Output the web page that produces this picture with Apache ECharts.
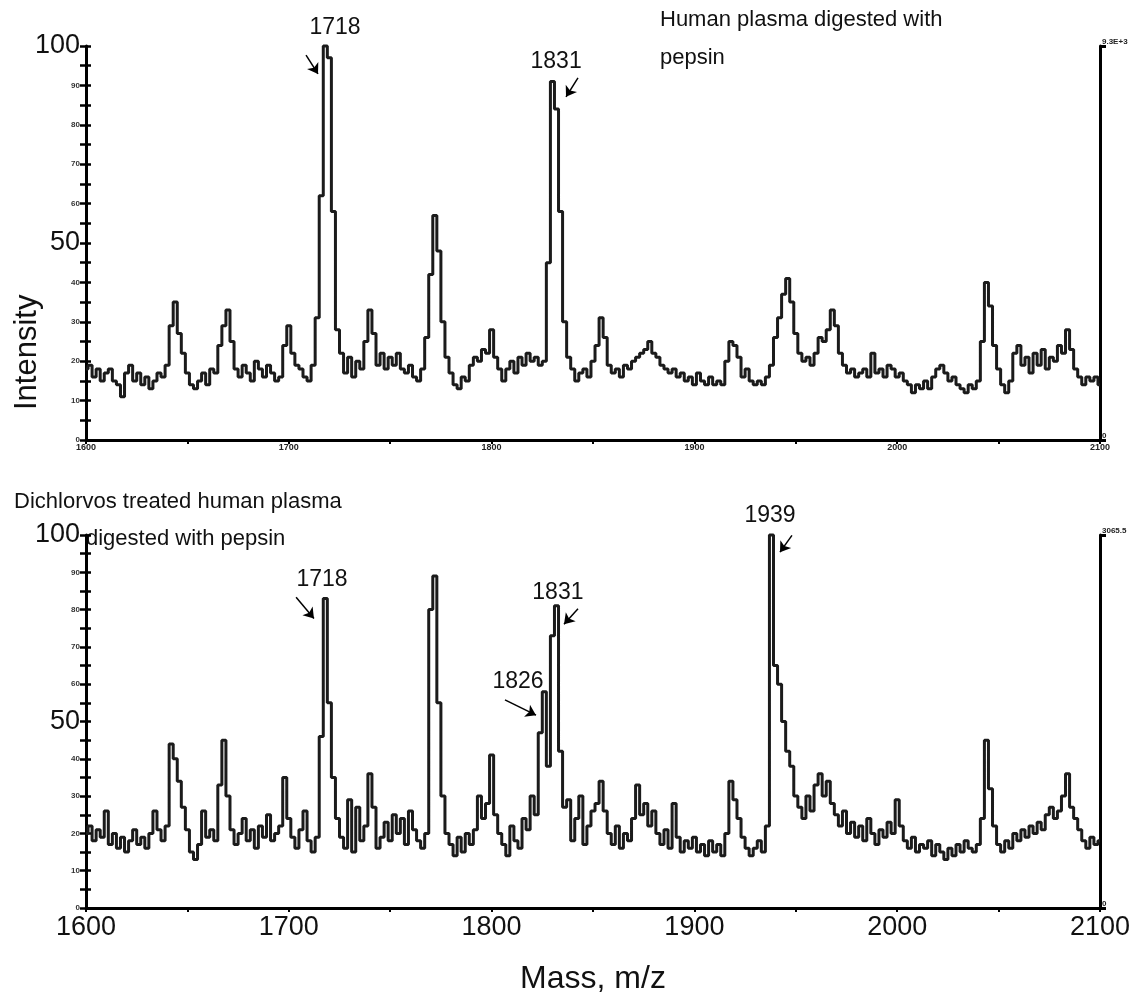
<!DOCTYPE html>
<html>
<head>
<meta charset="utf-8">
<script src="https://cdn.jsdelivr.net/npm/echarts@6/dist/echarts.min.js"></script>
<style>
  html, body { margin: 0; padding: 0; background: #fff; }
  #chart { width: 1142px; height: 996px; }
</style>
</head>
<body>
<div id="chart"></div>
<script>
// spectra sampled every 2 m/z from 1600 to 2100 (one row = 20 m/z)
var massStart = 1600;
var massStep = 2;

var plasmaIntensity = [
  18,19,16,18,15,17,18,15,14,11,   // 1600
  17,19,15,17,14,16,13,15,17,16,   // 1620
  19,29,35,27,22,17,14,13,15,17,   // 1640
  14,18,17,24,29,33,25,18,16,19,   // 1660
  17,15,20,18,16,19,17,15,16,24,   // 1680
  29,22,19,18,16,15,19,31,62,100,  // 1700
  97,58,28,22,17,21,16,20,18,25,   // 1720
  33,27,19,22,18,21,19,22,18,17,   // 1740
  19,16,15,18,26,42,57,48,30,21,   // 1760
  17,14,13,16,15,19,21,20,23,22,   // 1780
  28,21,18,15,18,20,17,21,19,22,   // 1800
  20,21,19,20,45,91,84,58,30,21,   // 1820
  18,15,17,18,16,20,24,31,26,19,   // 1840
  17,18,16,19,18,20,21,22,23,25,   // 1860
  22,21,19,18,17,18,16,17,15,16,   // 1880
  14,17,15,14,16,14,15,14,20,25,   // 1900
  24,21,16,18,15,14,15,14,16,19,   // 1920
  26,31,37,41,35,27,22,20,21,19,   // 1940
  22,26,25,28,33,29,22,19,17,18,   // 1960
  16,17,18,16,22,17,18,16,19,18,   // 1980
  16,17,15,14,12,14,13,15,13,16,   // 2000
  18,19,17,15,16,14,13,12,14,13,   // 2020
  15,25,40,34,24,18,14,12,15,22,   // 2040
  24,19,21,17,22,19,23,18,21,20,   // 2060
  24,22,28,23,18,16,14,16,15,16,   // 2080
  14                               // 2100
];

var dichlorvosIntensity = [
  20,22,18,21,19,26,17,20,16,19,   // 1600
  15,18,21,17,19,16,20,26,21,18,   // 1620
  22,44,40,34,27,21,15,13,17,26,   // 1640
  19,21,18,33,45,30,21,17,20,24,   // 1660
  18,21,16,22,19,25,18,20,22,35,   // 1680
  24,19,16,21,26,18,15,19,46,83,   // 1700
  55,35,24,19,16,29,15,27,18,22,   // 1720
  36,27,16,19,23,18,25,20,24,17,   // 1740
  26,21,18,16,20,80,89,55,30,20,   // 1760
  17,14,19,15,20,17,21,30,24,28,   // 1780
  41,25,20,17,14,22,18,16,24,21,   // 1800
  30,25,47,58,38,73,81,42,27,29,   // 1820
  18,24,30,17,22,26,28,34,26,20,   // 1840
  17,22,16,20,18,24,33,25,28,22,   // 1860
  26,20,17,21,16,28,19,15,18,16,   // 1880
  19,15,17,14,18,15,17,14,20,34,   // 1900
  29,24,19,16,14,16,18,15,22,100,  // 1920
  65,60,50,42,38,30,27,24,30,26,   // 1940
  33,36,30,34,28,25,22,26,20,23,   // 1960
  19,22,18,24,20,17,21,19,23,20,   // 1980
  29,22,18,16,19,15,17,16,18,14,   // 2000
  17,15,13,16,14,17,15,18,16,15,   // 2020
  17,24,45,32,22,17,15,18,16,20,   // 2040
  18,21,19,22,20,23,21,25,27,24,   // 2060
  26,30,36,27,24,21,18,16,19,17,   // 2080
  18                               // 2100
];

// peak labels: [text, mass, intensity]; arrows: [fromMass, fromInt, toMass, toInt]
var plasmaLabels = [['1718', 1722.8, 104.6], ['1831', 1831.8, 95.9]];
var plasmaArrows = [[1708.5, 97.7, 1714.4, 92.9], [1842.6, 91.9, 1836.7, 87.1]];
var dichlorvosLabels = [['1718', 1716.4, 87.9], ['1831', 1832.7, 84.6], ['1826', 1813, 60.7], ['1939', 1937.3, 105.1]];
var dichlorvosArrows = [[1703.6, 83.3, 1712.4, 77.6], [1842.6, 80.2, 1835.7, 76.1], [1806.6, 55.8, 1821.9, 51.7], [1948.1, 99.9, 1942.2, 95.4]];

var scaleMax = ['9.3E+3', '3065.5'];

function toPairs(arr) {
  return arr.map(function (v, i) { return [massStart + i * massStep, v]; });
}

var ink = '#1b1b1b';
var narrow = '"Liberation Sans Narrow", "Liberation Sans", Arial';
var sans = '"Liberation Sans", Arial';

function xAxisFor(idx, big) {
  return {
    type: 'value', gridIndex: idx, min: 1600, max: 2100, interval: 50,
    axisLine: { lineStyle: { color: '#000', width: 3 } },
    axisTick: { length: 4, lineStyle: { color: '#000', width: 2 } },
    splitLine: { show: false },
    axisLabel: {
      margin: big ? 6 : 3,
      color: big ? '#111' : '#222',
      fontFamily: narrow,
      fontSize: big ? 27 : 9,
      fontWeight: big ? 'normal' : 'bold',
      formatter: function (v) { return v % 100 === 0 ? String(v) : ''; }
    },
    name: big ? 'Mass, m/z' : '',
    nameLocation: 'middle',
    nameGap: 55,
    nameTextStyle: { fontFamily: narrow, fontSize: 32, color: '#111' }
  };
}

function leftAxisFor(idx) {
  return {
    type: 'value', gridIndex: idx, min: 0, max: 100, interval: 5,
    axisLine: { show: true, lineStyle: { color: '#000', width: 3 } },
    axisTick: { show: true, length: 6, lineStyle: { color: '#000', width: 2.5 } },
    splitLine: { show: false },
    axisLabel: {
      margin: 6,
      formatter: function (v) {
        if (v === 50 || v === 100) return '{big|' + v + '}';
        if (v % 10 === 0) return '{small|' + v + '}';
        return '';
      },
      rich: {
        big: { fontSize: 27, fontFamily: sans, color: '#111' },
        small: { fontSize: 8, fontWeight: 'bold', fontFamily: narrow, color: '#333' }
      }
    }
  };
}

// same scale, ticks pointing inward so they cross the axis line
function innerTickAxisFor(idx) {
  return {
    type: 'value', gridIndex: idx, position: 'left', min: 0, max: 100, interval: 5,
    axisLine: { show: false },
    axisTick: { show: true, inside: true, length: 5, lineStyle: { color: '#000', width: 2.5 } },
    axisLabel: { show: false },
    splitLine: { show: false }
  };
}

function rightAxisFor(idx) {
  return {
    type: 'value', gridIndex: idx, position: 'right', min: 0, max: 100, interval: 100,
    axisLine: { show: true, lineStyle: { color: '#000', width: 3 } },
    axisTick: { show: true, length: 6, lineStyle: { color: '#000', width: 3 } },
    splitLine: { show: false },
    axisLabel: {
      margin: 2,
      fontSize: 8, fontWeight: 'bold',
      fontFamily: narrow, color: '#222',
      verticalAlign: 'bottom',
      formatter: function (v) { return v === 100 ? scaleMax[idx] : '0'; }
    }
  };
}

function spectrum(idx, data, arrows) {
  return {
    type: 'line', xAxisIndex: idx, yAxisIndex: idx * 3,
    data: toPairs(data), step: 'middle', showSymbol: false, clip: false,
    lineStyle: { color: ink, width: 3 },
    itemStyle: { color: ink },
    animation: false,
    markLine: {
      silent: true, symbol: ['none', 'arrow'], symbolSize: 10,
      itemStyle: { color: '#000' },
      lineStyle: { color: '#000', width: 1.5, type: 'solid' },
      label: { show: false },
      data: arrows.map(function (a) { return [{ coord: [a[0], a[1]] }, { coord: [a[2], a[3]] }]; })
    }
  };
}

var chart = echarts.init(document.getElementById('chart'));
chart.setOption({
  animation: false,
  backgroundColor: '#fff',
  grid: [
    { left: 86, right: 42, top: 46, height: 394 },
    { left: 86, right: 42, top: 535, height: 389 }
  ],
  xAxis: [xAxisFor(0, false), xAxisFor(1, true)],
  yAxis: [leftAxisFor(0), rightAxisFor(0), innerTickAxisFor(0), leftAxisFor(1), rightAxisFor(1), innerTickAxisFor(1)],
  series: [
    spectrum(0, plasmaIntensity, plasmaArrows),
    spectrum(1, dichlorvosIntensity, dichlorvosArrows)
  ]
});

// text annotations placed through the axes' own scales
function peakTexts(idx, labels) {
  return labels.map(function (l) {
    var p = chart.convertToPixel({ xAxisIndex: idx, yAxisIndex: idx * 3 }, [l[1], l[2]]);
    return { type: 'text', x: p[0], y: p[1], style: { text: l[0], font: '23px ' + sans, fill: '#111', align: 'center', verticalAlign: 'middle' } };
  });
}

chart.setOption({
  graphic: [
    { type: 'text', left: 660, top: 9, style: { text: 'Human plasma digested with', font: '22px ' + sans, fill: '#111' } },
    { type: 'text', left: 660, top: 47, style: { text: 'pepsin', font: '22px ' + sans, fill: '#111' } },
    { type: 'text', left: 14, top: 491, style: { text: 'Dichlorvos treated human plasma', font: '22px ' + sans, fill: '#111' } },
    { type: 'text', left: 86, top: 528, style: { text: 'digested with pepsin', font: '22px ' + sans, fill: '#111' } },
    { type: 'text', x: 12, y: 410, rotation: Math.PI / 2, style: { text: 'Intensity', font: '31px ' + sans, fill: '#111' } }
  ].concat(peakTexts(0, plasmaLabels), peakTexts(1, dichlorvosLabels))
});
</script>
</body>
</html>
